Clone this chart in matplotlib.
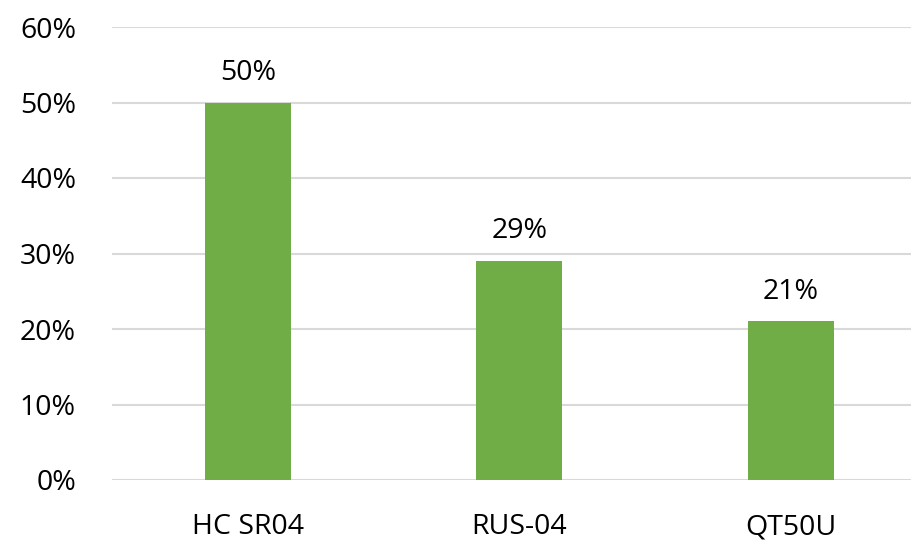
import numpy as np
import matplotlib.pyplot as plt

# data
categories = ['HC SR04', 'RUS-04', 'QT50U']
shares = [50, 29, 21]
y_ticks = [0, 10, 20, 30, 40, 50, 60]

plt.rcParams['font.family'] = ['Open Sans', 'DejaVu Sans']

fig = plt.figure(figsize=(9.12, 5.44), dpi=100)
ax = fig.add_axes([112/912, 64/544, 800/912, 453/544])

x = np.arange(len(categories))
ax.bar(x, shares, width=0.315, color='#70AD47', zorder=3)

# value labels above the bars
for xi, v in zip(x, shares):
    ax.text(xi, v + 2.1, f'{v}%', ha='center', va='bottom', fontsize=20.5, color='black')

ax.set_xlim(-0.5, -0.5 + 800/271.5)
ax.set_ylim(0, 60)
ax.set_yticks(y_ticks)
ax.set_yticklabels([f'{t}%' for t in y_ticks])
ax.set_xticks(x)
ax.set_xticklabels(categories)
ax.tick_params(axis='both', length=0, labelsize=20.5, colors='black')
ax.tick_params(axis='y', pad=26)
ax.tick_params(axis='x', pad=24)
ax.yaxis.grid(True, color='#D9D9D9', linewidth=1.5, zorder=0)
for s in ax.spines.values():
    s.set_visible(False)

fig.savefig('out.png', dpi=100)
